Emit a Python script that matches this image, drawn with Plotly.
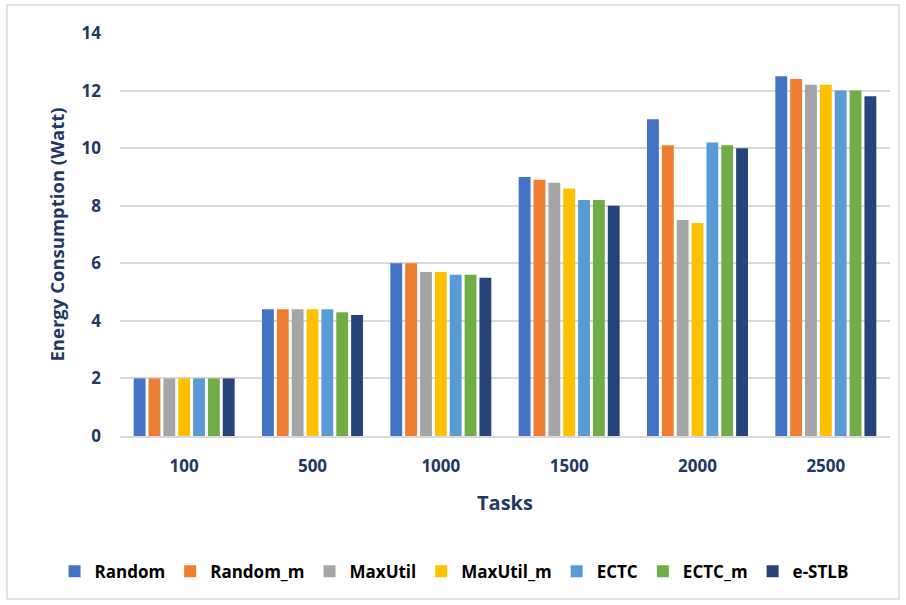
import plotly.graph_objects as go

categories = ["100", "500", "1000", "1500", "2000", "2500"]
series_names = ["Random", "Random_m", "MaxUtil", "MaxUtil_m", "ECTC", "ECTC_m", "e-STLB"]
random_v = [2.0, 4.4, 6.0, 9.0, 11.0, 12.5]
random_m_v = [2.0, 4.4, 6.0, 8.9, 10.1, 12.4]
maxutil_v = [2.0, 4.4, 5.7, 8.8, 7.5, 12.2]
maxutil_m_v = [2.0, 4.4, 5.7, 8.6, 7.4, 12.2]
ectc_v = [2.0, 4.4, 5.6, 8.2, 10.2, 12.0]
ectc_m_v = [2.0, 4.3, 5.6, 8.2, 10.1, 12.0]
estlb_v = [2.0, 4.2, 5.5, 8.0, 10.0, 11.8]
y_ticks = [0, 2, 4, 6, 8, 10, 12, 14]

values = [random_v, random_m_v, maxutil_v, maxutil_m_v, ectc_v, ectc_m_v, estlb_v]
colors = ["#4472C4", "#ED7D31", "#A5A5A5", "#FFC000", "#5B9BD5", "#70AD47", "#264478"]
navy = "#1F3864"
font_family = "Open Sans"

fig = go.Figure()
for name, vals, col in zip(series_names, values, colors):
    fig.add_trace(go.Bar(x=categories, y=vals, name=name, marker_color=col,
                         marker_line_width=0))

fig.update_layout(
    width=906, height=605,
    margin=dict(l=120, r=16, t=33, b=169),
    paper_bgcolor="white", plot_bgcolor="white",
    barmode="group", bargap=0.19, bargroupgap=0.2,
    font=dict(family=font_family, color=navy),
    showlegend=True,
    legend=dict(orientation="h", x=-0.085, xanchor="left", y=-0.337, yanchor="middle",
                font=dict(size=17, color="black", family=font_family, weight="bold"),
                itemwidth=30, traceorder="normal", tracegroupgap=0),
    shapes=[dict(type="rect", xref="paper", yref="paper", x0=-0.1468, x1=1.0117,
                 y0=-0.4045, y1=1.0695, line=dict(color="#D9D9D9", width=1.5),
                 fillcolor="rgba(0,0,0,0)", layer="below")],
)
fig.update_xaxes(
    type="category", showgrid=False, showline=True, linecolor="#D9D9D9", linewidth=1.5,
    ticks="", ticklabelstandoff=14,
    tickfont=dict(size=17, color=navy, family=font_family, weight="bold"),
    title=dict(text="Tasks", font=dict(size=20, color=navy, family=font_family, weight="bold"),
               standoff=20),
)
fig.update_yaxes(
    range=[0, 14], tickvals=y_ticks, showgrid=True, gridcolor="#D9D9D9", gridwidth=1.5,
    zeroline=False, showline=False, ticks="", ticklabelstandoff=18,
    tickfont=dict(size=17, color=navy, family=font_family, weight="bold"),
    title=dict(text="Energy Consumption (Watt)",
               font=dict(size=18.5, color=navy, family=font_family, weight="bold"),
               standoff=12),
)
fig.write_html("out.html", config={"displayModeBar": False},
               post_script="document.body.style.margin='0';")
